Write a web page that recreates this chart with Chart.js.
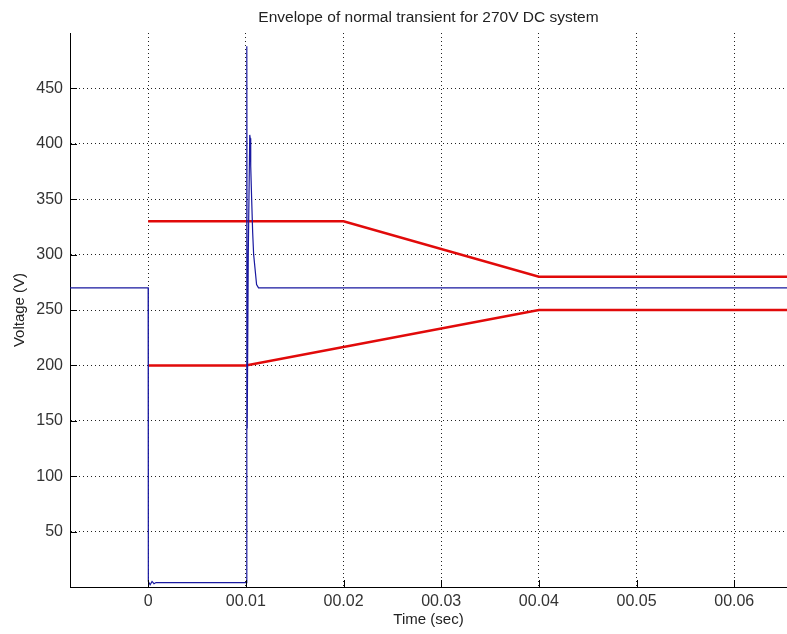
<!DOCTYPE html>
<html>
<head>
<meta charset="utf-8">
<script src="https://cdn.jsdelivr.net/npm/chart.js@4.4.1/dist/chart.umd.min.js"></script>
<style>
  html, body { margin: 0; padding: 0; background: #fff; }
  #wrap { width: 787px; height: 634px; }
</style>
</head>
<body>
<div id="wrap"><canvas id="chart"></canvas></div>
<script>
// measured voltage trace (time in seconds, voltage in volts)
const blueTime = [-0.008, 0, 0.00002, 0.0002, 0.0004, 0.0006, 0.0008, 0.01008,
  0.0101, 0.01014, 0.01025, 0.0104, 0.01045, 0.0105, 0.0106, 0.0107, 0.0108,
  0.011, 0.0111, 0.0113, 0.07];
const blueVolt = [270, 270, 5, 2, 5, 3, 4, 4,
  488, 143, 300, 408, 405, 380, 349, 320, 300,
  282, 273, 270, 270];

// envelope limits
const upperTime = [0, 0.02, 0.04, 0.07];
const upperVolt = [330, 330, 280, 280];
const lowerTime = [0, 0.01, 0.04, 0.07];
const lowerVolt = [200, 200, 250, 250];

const yTicks = [50, 100, 150, 200, 250, 300, 350, 400, 450];
const xTicks = [0, 0.01, 0.02, 0.03, 0.04, 0.05, 0.06];

const chartTitle = 'Envelope of normal transient for 270V DC system';
const xTitle = 'Time (sec)';
const fontFamily = "'Liberation Sans', Arial, sans-serif";

function pts(t, v) {
  return t.map((x, i) => ({ x: x, y: v[i] }));
}

function xLabel(v) {
  const n = Math.round(v * 100);
  if (n === 0) return '0';
  return '00.0' + n;
}

// titles centred over the plot area + little inward tick marks
const decor = {
  id: 'decor',
  afterDraw(chart) {
    const ctx = chart.ctx;
    const a = chart.chartArea;
    const xs = chart.scales.x, ys = chart.scales.y;
    ctx.save();
    ctx.strokeStyle = '#000';
    ctx.lineWidth = 1;
    ctx.beginPath();
    xTicks.forEach(v => {
      const px = Math.round(xs.getPixelForValue(v)) + 0.5;
      ctx.moveTo(px, a.bottom);
      ctx.lineTo(px, a.bottom - 7);
    });
    yTicks.forEach(v => {
      const py = Math.round(ys.getPixelForValue(v)) + 0.5;
      ctx.moveTo(a.left, py);
      ctx.lineTo(a.left + 7, py);
    });
    ctx.stroke();

    const cx = (a.left + a.right) / 2;
    ctx.fillStyle = '#222';
    ctx.textAlign = 'center';
    ctx.textBaseline = 'middle';
    ctx.font = '15.5px ' + fontFamily;
    ctx.fillText(chartTitle, cx, 17.5);
    ctx.font = '15px ' + fontFamily;
    ctx.fillText(xTitle, cx, 620);
    ctx.restore();
  }
};

const tickFont = { family: fontFamily, size: 16 };
const labelFont = { family: fontFamily, size: 15 };

new Chart(document.getElementById('chart'), {
  type: 'line',
  data: {
    datasets: [
      {
        data: pts(blueTime, blueVolt),
        borderColor: 'rgb(25,25,160)',
        borderWidth: 1.2,
        pointRadius: 0,
        tension: 0
      },
      {
        data: pts(upperTime, upperVolt),
        borderColor: 'rgb(225,10,10)',
        borderWidth: 2.5,
        pointRadius: 0,
        tension: 0
      },
      {
        data: pts(lowerTime, lowerVolt),
        borderColor: 'rgb(225,10,10)',
        borderWidth: 2.5,
        pointRadius: 0,
        tension: 0
      }
    ]
  },
  options: {
    responsive: true,
    maintainAspectRatio: false,
    animation: false,
    layout: { padding: { top: 33, left: 0, right: 0, bottom: 0 } },
    plugins: {
      legend: { display: false },
      tooltip: { enabled: false },
      title: { display: false }
    },
    scales: {
      x: {
        type: 'linear',
        min: -0.008,
        max: 0.0654,
        afterFit(scale) { scale.height = 47; },
        afterBuildTicks(scale) { scale.ticks = xTicks.map(v => ({ value: v })); },
        ticks: {
          includeBounds: false,
          color: '#333',
          font: tickFont,
          padding: 5,
          maxRotation: 0,
          autoSkip: false,
          callback: xLabel
        },
        grid: {
          color: '#222',
          drawTicks: false
        },
        border: { display: true, color: '#000', width: 1, dash: [1, 3] },
        title: { display: false }
      },
      y: {
        type: 'linear',
        min: 0,
        max: 500,
        afterFit(scale) { scale.width = 70; },
        afterBuildTicks(scale) { scale.ticks = yTicks.map(v => ({ value: v })); },
        ticks: {
          color: '#333',
          font: tickFont,
          padding: 7,
          autoSkip: false
        },
        grid: {
          color: '#222',
          drawTicks: false
        },
        border: { display: true, color: '#000', width: 1, dash: [1, 3] },
        title: {
          display: true,
          text: 'Voltage (V)',
          color: '#222',
          font: labelFont,
          padding: { top: 11, bottom: 0 }
        }
      }
    }
  },
  plugins: [decor]
});
</script>
</body>
</html>
